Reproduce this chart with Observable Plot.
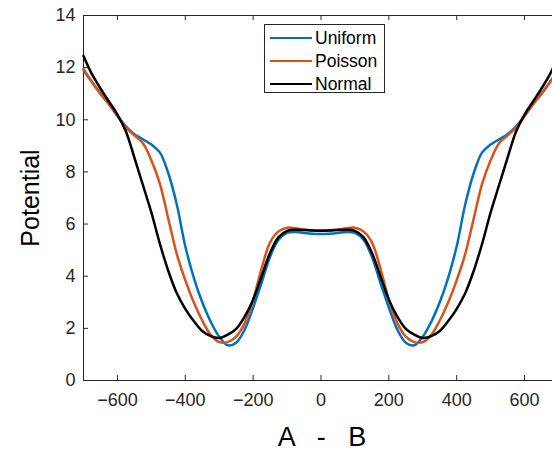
<!DOCTYPE html>
<html>
<head>
<meta charset="utf-8">
<script src="https://cdn.jsdelivr.net/npm/d3@7"></script>
<script src="https://cdn.jsdelivr.net/npm/@observablehq/plot@0.6"></script>
<style>
html, body { margin: 0; padding: 0; background: #fff; overflow: hidden; }
#wrap { position: relative; width: 552px; height: 452px; overflow: hidden; }
.legend { position: absolute; left: 264px; top: 24px; width: 121px; height: 69px; border: 1px solid #262626; background: #fff;
  font-family: "Liberation Sans", Arial, sans-serif; font-size: 17.5px; color: #000; box-sizing: border-box; }
.item { position: absolute; left: 5px; height: 20px; display: flex; align-items: center; white-space: nowrap; }
.sw { width: 42px; height: 0; border-top: 2.5px solid; margin-right: 3px; }
</style>
</head>
<body>
<div id="wrap"></div>
<script>
// ---- data ----
const xs = [-700,-675,-650,-625,-600,-575,-550,-525,-500,-475,-450,-425,-400,-375,-350,-325,-300,-275,-250,-225,-200,-175,-150,-125,-100,-75,-50,-25,0,
            25,50,75,100,125,150,175,200,225,250,275,300,325,350,375,400,425,450,475,500,525,550,575,600,625,650,675,700];
const uniform = [11.9,11.45,11.0,10.6,10.15,9.75,9.45,9.25,9.05,8.75,7.95,6.75,5.15,3.95,3.0,2.25,1.68,1.35,1.45,1.95,2.8,3.75,4.75,5.4,5.66,5.7,5.66,5.63,5.62,
                 5.63,5.66,5.7,5.66,5.4,4.75,3.75,2.8,1.95,1.45,1.35,1.68,2.25,3.0,3.95,5.15,6.75,7.95,8.75,9.05,9.25,9.45,9.75,10.15,10.6,11.0,11.45,11.9];
const poisson = [11.95,11.45,11.0,10.6,10.15,9.7,9.4,9.1,8.45,7.55,6.2,4.85,3.85,3.0,2.3,1.75,1.47,1.47,1.68,2.2,3.1,4.3,5.3,5.72,5.86,5.84,5.79,5.76,5.75,
                 5.76,5.79,5.84,5.86,5.72,5.3,4.3,3.1,2.2,1.68,1.47,1.47,1.75,2.3,3.0,3.85,4.85,6.2,7.55,8.45,9.1,9.4,9.7,10.15,10.6,11.0,11.45,11.95];
const normal = [12.45,11.75,11.2,10.7,10.2,9.55,8.55,7.5,6.45,5.25,4.2,3.35,2.75,2.28,1.9,1.7,1.63,1.76,1.98,2.45,3.1,4.0,4.9,5.5,5.74,5.78,5.77,5.75,5.74,
                5.75,5.77,5.78,5.74,5.5,4.9,4.0,3.1,2.45,1.98,1.76,1.63,1.7,1.9,2.28,2.75,3.35,4.2,5.25,6.45,7.5,8.55,9.55,10.2,10.7,11.2,11.75,12.45];
const seriesNames = ["Uniform", "Poisson", "Normal"];
const seriesColors = ["#0072BD", "#D95319", "#000000"];
const xTicks = [-600, -400, -200, 0, 200, 400, 600];
const yTicks = [0, 2, 4, 6, 8, 10, 12, 14];
const xDomain = [-700, 700];
const yDomain = [0, 14];
const xLabel = "A - B";
const yLabel = "Potential";

const seriesValues = [uniform, poisson, normal];
const data = seriesNames.flatMap((name, i) => xs.map((x, j) => ({series: name, x, y: seriesValues[i][j]})));

const axisColor = "#262626";
const W = 552, H = 452, mL = 83, mT = 15, mB = 72;
const tickLen = 5;
const frameH = H - mT - mB, frameW = W - mL;

const chart = Plot.plot({
  width: W, height: H,
  marginLeft: mL, marginRight: 0, marginTop: mT, marginBottom: mB,
  x: {domain: xDomain, range: [83, 558]},
  y: {domain: yDomain, range: [380, 15]},
  color: {domain: seriesNames, range: seriesColors},
  style: {fontFamily: "'Liberation Sans', Arial, sans-serif", fontSize: "18px", color: axisColor, background: "#fff"},
  marks: [
    Plot.ruleY([yDomain[0]], {stroke: axisColor}),
    Plot.ruleY([yDomain[1]], {stroke: axisColor}),
    Plot.ruleX([xDomain[0]], {stroke: axisColor}),
    Plot.axisX(xTicks, {anchor: "bottom", tickSize: 0, tickPadding: 13, label: null}),
    Plot.axisY(yTicks, {anchor: "left", tickSize: 0, tickPadding: 8, label: null}),
    Plot.ruleX(xTicks, {insetTop: frameH - tickLen, stroke: axisColor, strokeWidth: 1}),
    Plot.ruleX(xTicks, {insetBottom: frameH - tickLen, stroke: axisColor, strokeWidth: 1}),
    Plot.ruleY(yTicks, {insetRight: frameW - tickLen, stroke: axisColor, strokeWidth: 1}),
    Plot.line(data, {x: "x", y: "y", z: "series", stroke: "series", strokeWidth: 2.5, curve: "catmull-rom"}),
    Plot.text([yLabel], {frameAnchor: "left", textAnchor: "middle", lineAnchor: "middle", rotate: -90, dx: -53, fontSize: 25, fill: "#000"}),
    Plot.text([xLabel], {frameAnchor: "bottom", textAnchor: "middle", lineAnchor: "middle", dy: 57, dx: 4, fontSize: 27, fill: "#000", className: "xlabel"})
  ]
});
const wrap = document.getElementById("wrap");
wrap.appendChild(chart);
d3.select(chart).selectAll(".xlabel text").style("word-spacing", "15px");

const legend = document.createElement("div");
legend.className = "legend";
seriesNames.forEach((name, i) => {
  const item = document.createElement("div");
  item.className = "item";
  item.style.top = (3 + i * 23) + "px";
  const sw = document.createElement("span");
  sw.className = "sw";
  sw.style.borderTopColor = seriesColors[i];
  const t = document.createElement("span");
  t.textContent = name;
  item.appendChild(sw); item.appendChild(t);
  legend.appendChild(item);
});
wrap.appendChild(legend);
</script>
</body>
</html>
